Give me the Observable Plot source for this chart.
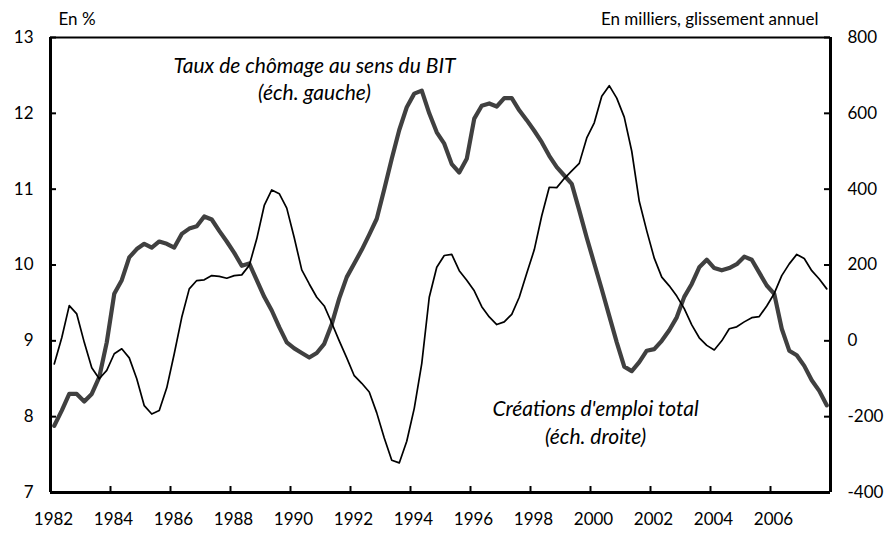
<!DOCTYPE html>
<html>
<head>
<meta charset="utf-8">
<script src="https://cdn.jsdelivr.net/npm/d3@7"></script>
<script src="https://cdn.jsdelivr.net/npm/@observablehq/plot@0.6"></script>
<style>
  html, body { margin: 0; padding: 0; background: #fff; }
  #chart svg { display: block; }
</style>
</head>
<body>
<div id="chart"></div>
<script>
// Quarterly series, 1982 Q1 – 2007 Q4
const startYear = 1982;
// Taux de chômage au sens du BIT (%), left scale
const unemployment = [
  7.88, 8.08, 8.30, 8.30, 8.20, 8.30, 8.52, 8.98, 9.62, 9.80, 10.10, 10.21, 10.28, 10.23, 10.31, 10.28,
  10.23, 10.41, 10.48, 10.51, 10.64, 10.60, 10.45, 10.31, 10.16, 9.99, 10.02, 9.80, 9.58, 9.40, 9.18, 8.98,
  8.90, 8.84, 8.78, 8.84, 8.96, 9.22, 9.56, 9.84, 10.02, 10.20, 10.40, 10.61, 11.00, 11.40, 11.78, 12.08,
  12.26, 12.30, 12.00, 11.75, 11.60, 11.33, 11.22, 11.40, 11.93, 12.10, 12.13, 12.09, 12.20, 12.20, 12.04, 11.91,
  11.77, 11.62, 11.44, 11.29, 11.18, 11.07, 10.72, 10.36, 10.02, 9.68, 9.33, 8.98, 8.66, 8.60, 8.72, 8.87,
  8.89, 9.00, 9.14, 9.31, 9.58, 9.75, 9.97, 10.07, 9.96, 9.93, 9.96, 10.01, 10.11, 10.07, 9.90, 9.73,
  9.62, 9.16, 8.87, 8.81, 8.67, 8.48, 8.34, 8.15
];
// Créations d'emploi total (milliers, glissement annuel), right scale
const jobCreation = [
  -61, 8, 93, 71, -4, -71, -100, -78, -34, -21, -45, -100, -171, -193, -184, -124,
  -34, 62, 137, 159, 161, 172, 170, 165, 172, 174, 199, 269, 357, 398, 388, 350,
  272, 187, 150, 115, 92, 47, 0, -45, -92, -112, -135, -190, -256, -315, -322, -265,
  -178, -60, 115, 194, 225, 228, 185, 160, 132, 90, 63, 43, 50, 70, 115, 178,
  240, 330, 405, 404, 428, 448, 468, 535, 575, 645, 673, 640, 590, 500, 368, 290,
  218, 168, 145, 118, 85, 42, 8, -12, -24, 0, 32, 37, 50, 61, 64, 92,
  125, 172, 203, 228, 217, 185, 163, 137
];
const xTicks = [1982, 1984, 1986, 1988, 1990, 1992, 1994, 1996, 1998, 2000, 2002, 2004, 2006];
const leftTicks = [7, 8, 9, 10, 11, 12, 13];
const rightTicks = [-400, -200, 0, 200, 400, 600, 800];

// right scale mapped onto the left one: -400 -> 7, 800 -> 13
const toLeft = v => 9 + v / 200;
const toRight = y => (y - 9) * 200;

const data = unemployment.map((u, i) => ({
  t: startYear + (i + 0.5) / 4,
  u,
  e: jobCreation[i]
}));

const W = 888, H = 533;
const mL = 50, mR = 58, mT = 37, mB = 41;
const plotW = W - mL - mR, plotH = H - mT - mB;

const chart = Plot.plot({
  width: W,
  height: H,
  marginLeft: mL,
  marginRight: mR,
  marginTop: mT,
  marginBottom: mB,
  style: { fontFamily: "Lato, 'Open Sans', sans-serif", fontSize: "17px", background: "#fff", color: "#000" },
  x: { domain: [1982, 2008] },
  y: { domain: [7, 13] },
  marks: [
    // axis labels
    Plot.axisX({ anchor: "bottom", ticks: xTicks, tickSize: 0, tickPadding: 20, tickFormat: d => String(d), label: null, fontSize: 17, dx: 3 }),
    Plot.axisY({ anchor: "left", ticks: leftTicks, tickSize: 0, tickPadding: 17, tickFormat: d => String(d), label: null, fontSize: 17 }),
    Plot.axisY({ anchor: "right", ticks: leftTicks, tickSize: 0, tickPadding: 17, tickFormat: d => String(toRight(d)), label: null, fontSize: 17 }),
    // inward ticks
    Plot.tickX(xTicks, { x: d => d, insetTop: plotH - 6, stroke: "#000", strokeWidth: 2 }),
    Plot.tickY(leftTicks, { y: d => d, insetRight: plotW - 6, stroke: "#000", strokeWidth: 2 }),
    Plot.tickY(rightTicks.map(toLeft), { y: d => d, insetLeft: plotW - 6, stroke: "#000", strokeWidth: 2 }),
    // series
    Plot.line(data, { x: "t", y: "u", stroke: "#404040", strokeWidth: 4.2, strokeLinejoin: "round" }),
    Plot.line(data, { x: "t", y: d => toLeft(d.e), stroke: "#000", strokeWidth: 1.7, strokeLinejoin: "round" }),
    // frame
    Plot.ruleY([13], { stroke: "#000", strokeWidth: 1.8 }),
    Plot.ruleY([7], { stroke: "#000", strokeWidth: 3 }),
    Plot.ruleX([1982, 2008], { stroke: "#000", strokeWidth: 3 }),
    // unit labels
    Plot.text(["En %"], { frameAnchor: "top-left", dx: 8, dy: -18, textAnchor: "start", lineAnchor: "middle", fontSize: 17, fill: "#000" }),
    Plot.text(["En milliers, glissement annuel"], { frameAnchor: "top-right", dx: -12, dy: -18, textAnchor: "end", lineAnchor: "middle", fontSize: 17, fill: "#000" }),
    // series annotations
    Plot.text(["Taux de chômage au sens du BIT\n(éch. gauche)"], { x: 1990.8, y: 12.47, textAnchor: "middle", lineAnchor: "middle", lineHeight: 1.3, fontSize: 21, fontStyle: "italic", fill: "#000" }),
    Plot.text(["Créations d'emploi total\n(éch. droite)"], { x: 2000.17, y: 7.94, textAnchor: "middle", lineAnchor: "middle", lineHeight: 1.3, fontSize: 21, fontStyle: "italic", fill: "#000" })
  ]
});

document.getElementById("chart").appendChild(chart);
</script>
</body>
</html>
